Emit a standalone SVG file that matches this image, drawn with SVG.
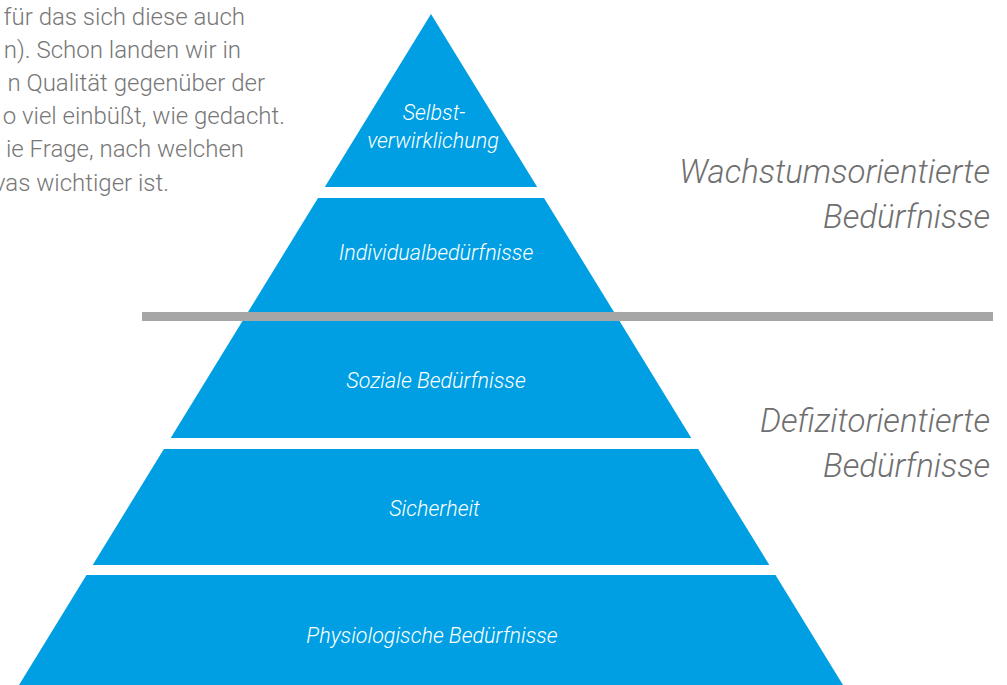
<svg xmlns="http://www.w3.org/2000/svg" width="1007" height="685" viewBox="0 0 1007 685">
  <style>
    .layer { fill: #009fe3; }
    .lbl { font-family: Roboto, "Liberation Sans", sans-serif; font-style: italic; font-weight: 300; font-size: 21.5px; fill: #ffffff; text-anchor: middle; }
    .side { font-family: Roboto, "Liberation Sans", sans-serif; font-style: italic; font-weight: 300; font-size: 33px; fill: #6f6f6f; text-anchor: end; }
    .body { font-family: Roboto, "Liberation Sans", sans-serif; font-weight: 300; font-size: 24px; fill: #777777; text-anchor: end; }
  </style>
  <rect width="1007" height="685" fill="#ffffff"/>

  <!-- running text beside the pyramid -->
  <g id="bodytext" class="body">
    <text x="245" y="25">für das sich diese auch</text>
    <text x="241" y="58">n). Schon landen wir in</text>
    <text x="265" y="91">n Qualität gegenüber der</text>
    <text x="285" y="124">o viel einbüßt, wie gedacht.</text>
    <text x="244" y="157">ie Frage, nach welchen</text>
    <text x="169" y="191">vas wichtiger ist.</text>
  </g>

  <!-- pyramid layers, top to bottom -->
  <g id="layer-selbstverwirklichung">
    <polygon class="layer" points="431,14 537.2,187 324.8,187"/>
    <text class="lbl" x="434" y="120">Selbst-</text>
    <text class="lbl" x="433" y="148">verwirklichung</text>
  </g>
  <g id="layer-individual">
    <polygon class="layer" points="318,198 544,198 615.2,314 246.8,314"/>
    <text class="lbl" x="436" y="260">Individualbedürfnisse</text>
  </g>
  <g id="layer-sozial">
    <polygon class="layer" points="243.1,320 618.9,320 691.3,438 170.7,438"/>
    <text class="lbl" x="436" y="388">Soziale Bedürfnisse</text>
  </g>
  <g id="layer-sicherheit">
    <polygon class="layer" points="163.9,449 698.1,449 769.3,565 92.7,565"/>
    <text class="lbl" x="434.5" y="516">Sicherheit</text>
  </g>
  <g id="layer-physiologisch">
    <polygon class="layer" points="86.5,575 775.5,575 843,685 19,685"/>
    <text class="lbl" x="432" y="643">Physiologische Bedürfnisse</text>
  </g>

  <!-- divider between growth and deficit needs -->
  <g id="connectors">
    <rect x="142" y="312" width="851" height="9" fill="#a6a6a6"/>
  </g>

  <!-- group captions -->
  <g id="caption-wachstum" class="side">
    <text x="990" y="183">Wachstumsorientierte</text>
    <text x="990" y="228">Bedürfnisse</text>
  </g>
  <g id="caption-defizit" class="side">
    <text x="990" y="432">Defizitorientierte</text>
    <text x="990" y="477">Bedürfnisse</text>
  </g>
</svg>
